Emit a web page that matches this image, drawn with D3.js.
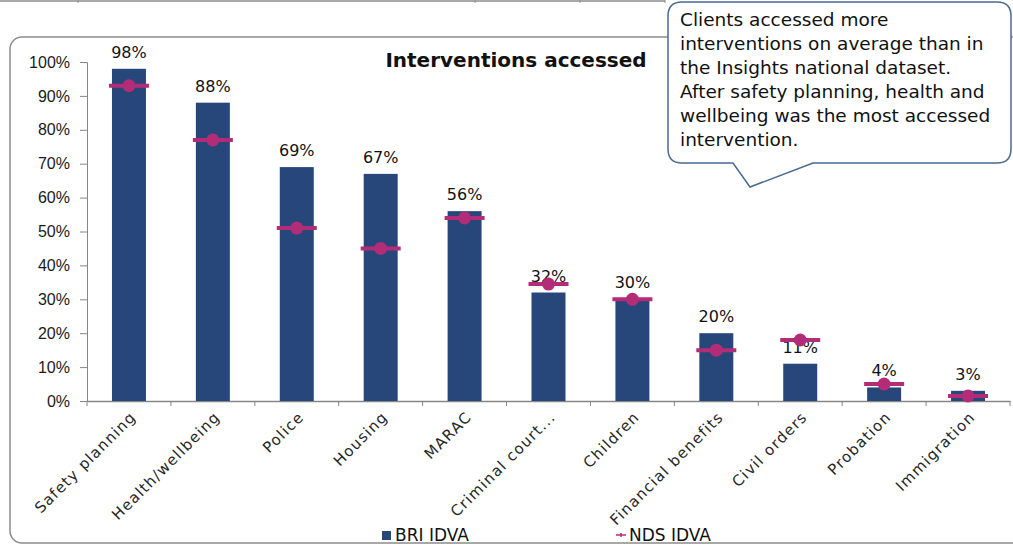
<!DOCTYPE html>
<html>
<head>
<meta charset="utf-8">
<script src="https://cdn.jsdelivr.net/npm/d3@7"></script>
<style>
  body { margin: 0; background: #fff; }
  svg { font-family: "DejaVu Sans", Verdana, sans-serif; }
  .tick text { fill: #1a1a1a; }
</style>
</head>
<body>
<svg id="chart" width="1013" height="549"></svg>
<script>
const categories = ["Safety planning", "Health/wellbeing", "Police", "Housing", "MARAC",
    "Criminal court...", "Children", "Financial benefits", "Civil orders", "Probation", "Immigration"];
const briValues = [98, 88, 69, 67, 56, 32, 30, 20, 11, 4, 3];
const ndsValues = [93, 77, 51, 45, 54, 34.5, 30, 15, 18, 5, 1.5];
const yTicks = [0, 10, 20, 30, 40, 50, 60, 70, 80, 90, 100];
const calloutLines = ["Clients accessed more", "interventions on average than in",
    "the Insights national dataset.", "After safety planning, health and",
    "wellbeing was the most accessed", "intervention."];

const barColor = "#27467a", ndsColor = "#b32c78";

const margin = { top: 62, left: 87, right: 3, bottom: 148 },
    width = 1013 - margin.left - margin.right,
    height = 549 - margin.top - margin.bottom;

const svg = d3.select("#chart");

// bits of the table above
svg.append("line").attr("x1", 0).attr("x2", 665).attr("y1", 1).attr("y2", 1)
    .attr("stroke", "#8c8c8c").attr("stroke-width", 1.5);
[78, 475, 580, 665].forEach(x => {
    svg.append("line").attr("x1", x).attr("x2", x).attr("y1", 0).attr("y2", 3)
        .attr("stroke", "#8c8c8c");
});

// chart frame
svg.append("rect")
    .attr("x", 10).attr("y", 37).attr("width", 1030).attr("height", 506)
    .attr("rx", 12).attr("fill", "none")
    .attr("stroke", "#8c8c8c").attr("stroke-width", 1.5);

const g = svg.append("g").attr("transform", `translate(${margin.left},${margin.top})`);

const x = d3.scaleBand().domain(categories).range([0, width]).paddingInner(0).paddingOuter(0);
const y = d3.scaleLinear().domain([0, 100]).range([height, 0]);
const barW = x.bandwidth() * 0.405;

// y axis
const yAxis = g.append("g")
    .call(d3.axisLeft(y).tickValues(yTicks).tickFormat(d => d + "%").tickSize(7).tickPadding(10));
yAxis.selectAll("text").attr("font-size", 16);
yAxis.selectAll("line, path").attr("stroke", "#868686");

// x axis with ticks between categories
const xAxis = g.append("g").attr("transform", `translate(0,${height})`)
    .call(d3.axisBottom(x).tickSize(0).tickFormat(""));
xAxis.select("path").attr("stroke", "#868686").attr("stroke-width", 1.5);
xAxis.selectAll(".tick").remove();
g.selectAll(".xtick")
    .data(categories.concat(["end"]))
    .enter().append("line")
    .attr("x1", (d, i) => i * x.step()).attr("x2", (d, i) => i * x.step())
    .attr("y1", height).attr("y2", height + 5)
    .attr("stroke", "#868686");

// category labels rotated
g.selectAll(".xlabel")
    .data(categories)
    .enter().append("text")
    .attr("transform", d => `translate(${x(d) + x.bandwidth() / 2 + 8},${height + 17}) rotate(-45)`)
    .attr("text-anchor", "end")
    .attr("font-size", 15)
    .attr("letter-spacing", 1.2)
    .attr("fill", "#262626")
    .text(d => d);

// bars
g.selectAll(".bar")
    .data(briValues)
    .enter().append("rect")
    .attr("x", (d, i) => x(categories[i]) + (x.bandwidth() - barW) / 2)
    .attr("y", d => y(d))
    .attr("width", barW)
    .attr("height", d => height - y(d))
    .attr("fill", barColor);

// bar labels
g.selectAll(".blabel")
    .data(briValues)
    .enter().append("text")
    .attr("x", (d, i) => x(categories[i]) + x.bandwidth() / 2)
    .attr("y", d => y(d) - 11)
    .attr("text-anchor", "middle")
    .attr("font-size", 16)
    .attr("fill", "#111")
    .text(d => d + "%");

// NDS markers
const nds = g.selectAll(".nds")
    .data(ndsValues)
    .enter().append("g")
    .attr("transform", (d, i) => `translate(${x(categories[i]) + x.bandwidth() / 2},${y(d)})`);
nds.append("line").attr("x1", -20).attr("x2", 20)
    .attr("stroke", ndsColor).attr("stroke-width", 4);
nds.append("circle").attr("r", 6.5).attr("fill", ndsColor);

// title
svg.append("text")
    .attr("x", 516).attr("y", 67)
    .attr("text-anchor", "middle")
    .attr("font-size", 20).attr("font-weight", "bold")
    .attr("fill", "#111")
    .text("Interventions accessed");

// legend
svg.append("rect").attr("x", 382).attr("y", 531).attr("width", 9).attr("height", 9).attr("fill", barColor);
svg.append("text").attr("x", 395).attr("y", 541).attr("font-size", 17).attr("fill", "#111").text("BRI IDVA");
svg.append("line").attr("x1", 616).attr("x2", 626).attr("y1", 535).attr("y2", 535)
    .attr("stroke", ndsColor).attr("stroke-width", 1.5);
svg.append("line").attr("x1", 621).attr("x2", 621).attr("y1", 533).attr("y2", 537)
    .attr("stroke", ndsColor).attr("stroke-width", 1.5);
svg.append("text").attr("x", 629).attr("y", 541).attr("font-size", 17).attr("fill", "#111").text("NDS IDVA");

// callout
const cl = 668, cr = 1011, ct = 2, cb = 163, r = 14;
const calloutPath = `M${cl + r},${ct} H${cr - r} Q${cr},${ct} ${cr},${ct + r} V${cb - r} Q${cr},${cb} ${cr - r},${cb}
    H813 L750,187 L733,${cb} H${cl + r} Q${cl},${cb} ${cl},${cb - r} V${ct + r} Q${cl},${ct} ${cl + r},${ct} Z`;
svg.append("path").attr("d", calloutPath)
    .attr("fill", "#fff").attr("stroke", "#4a6a92").attr("stroke-width", 1.5);
svg.append("text")
    .attr("font-size", 18.5).attr("fill", "#111")
    .selectAll("tspan")
    .data(calloutLines)
    .enter().append("tspan")
    .attr("x", 680)
    .attr("y", (d, i) => 26 + i * 24)
    .text(d => d);
</script>
</body>
</html>
